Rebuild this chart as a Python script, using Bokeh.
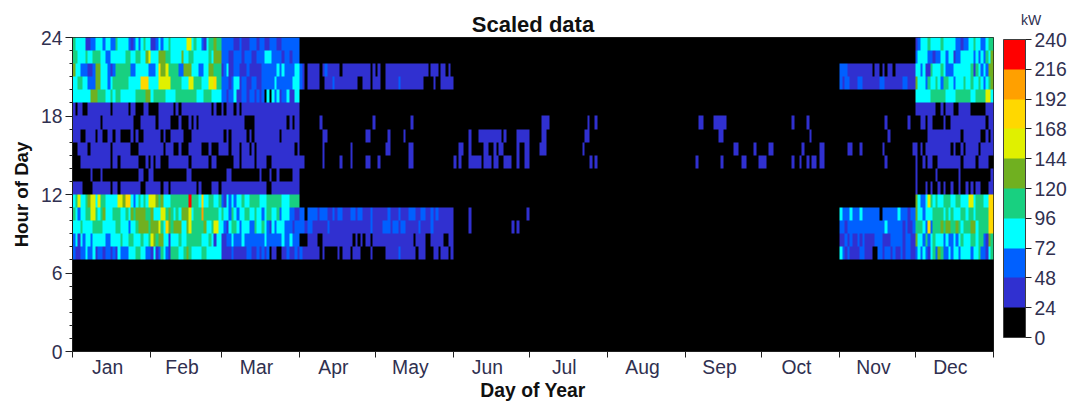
import numpy as np
from bokeh.embed import file_html
from bokeh.resources import INLINE
from bokeh.plotting import figure
from bokeh.models import ColorBar, Div, FixedTicker, LinearColorMapper, Range1d

title = "Scaled data"
x_title = "Day of Year"
y_title = "Hour of Day"
unit = "kW"
months = ["Jan", "Feb", "Mar", "Apr", "May", "Jun", "Jul", "Aug", "Sep", "Oct", "Nov", "Dec"]
month_days = [31, 28, 31, 30, 31, 30, 31, 31, 30, 31, 30, 31]
band_ticks = [0, 24, 48, 72, 96, 120, 144, 168, 192, 216, 240]
palette = ["#000000", "#3030D0", "#0060FF", "#00FFFF", "#18D080",
           "#70B020", "#E0F000", "#FFD800", "#FFA000", "#FF0000"]

# Bands read per day: digit n means the 24 kW band starting at n*24.
# January to March (days 0-89), top block
q1_evening = {
    23: "4333311223 3323322433 33212323433 1123233433 3333663433 21344544 2222211211 1222122112 22112222222",
    22: "4433343344 4332233333 34433443356 3335554433 3353344333 33343555 2221122212 2211222333 22221221222",
    21: "5332221125 5333212444 44422333332 2237556444 4225553332 23355444 1231122111 2111112222 22323222233",
    20: "3344332225 5333234444 44333337773 3336666644 4433366444 33366744 2221233122 1122112222 23222222333",
    19: "3333333555 4443343443 33333444455 3444443333 4444444433 34443333 2212231122 1221212030 32312231133",
}
# January to March, bottom block
q1_morning = {
    11: "3463345663 6443333366 57732343436 6654533344 4444494443 73344334 2132323343 3444433344 44443334444",
    10: "4323344664 3453334443 34354555544 5333664543 4355563444 84444443 4332432334 4334332344 33423332211",
    9:  "3334333344 4433333443 33233455554 5556437545 5533564444 45334663 3213443233 3224334321 32333222122",
    8:  "2313233233 3332233334 33443334334 6545533133 3433444444 33343133 1122322232 2222222322 22223223222",
    7:  "2112232231 2212212132 22333443322 1312432144 4334543333 44333333 1111211111 2211212120 11001121121",
}
# January to March, midday to evening: days below 24 kW, all others in the 24-48 band
q1_low_days = {
    18: [1, 4, 5, 15, 22, 25, 26, 27, 30, 31, 32, 33, 40, 42, 55, 57, 58, 60, 64, 66],
    17: [11, 24, 25, 26, 33, 39, 40, 41, 43, 44, 45, 47, 49, 68, 69, 70, 71, 85, 87],
    16: [3, 4, 9, 12, 13, 16, 19, 20, 21, 22, 24, 26, 27, 35, 37, 38, 44, 45, 46, 60, 62, 69, 71, 82],
    15: [0, 1, 6, 15, 23, 24, 25, 36, 40, 41, 43, 44, 45, 51, 52, 53, 55, 56, 57, 62, 66, 70, 72, 88],
    14: [0, 1, 2, 15, 18, 26, 27, 28, 30, 32, 35, 36, 37, 46, 54, 57, 58, 59, 60, 61, 62, 63, 66, 72, 77, 78],
    13: [0, 1, 2, 3, 4, 5, 6, 8, 9, 10, 12, 13, 14, 15, 16, 17, 18, 19, 20, 21, 22, 23, 24, 25, 28, 29,
         32, 33, 34, 35, 36, 37, 38, 39, 40, 41, 42, 43, 44, 47, 48, 49, 50, 51, 52, 53, 54, 55, 56, 57,
         58, 59, 60, 63, 64, 65, 66, 67, 68, 69, 70, 71, 72, 73, 75, 76, 77, 79, 80, 82, 83, 84, 85, 86],
    12: [4, 5, 6, 7, 15, 18, 27, 28, 35, 38, 49, 51, 52, 53, 54, 58, 77, 78],
}
# April and May (days 90-150)
spring = {
    21: "2101111101 2111110111 1111111101 0100111111 1111111111 10111011010",
    20: "2101111100 1112111111 1110011101 1100111112 1111111110 00010011111",
    10: "2202222122 2112122111 2212211121 1111121112 1112221122 11212111111",
    9:  "2212211111 1211111111 1111111121 1112221221 2211111211 11211111111",
    8:  "0001111001 1111111111 1010101101 1111111111 1111101111 00111110011",
    7:  "2111111101 0000010111 0111000010 0000111112 1111110111 00011011101",
}
# November (days 304-333)
november = {
    21: "2221111111 1110110101 1011111111",
    20: "2122111221 1111112211 1111122111",
    10: "3222322232 2222220222 2223222122",
    9:  "2212222222 2222222232 2222212112",
    8:  "1121211212 1111222111 2222212211",
    7:  "3212111122 1110022122 1211212211",
}
# December (days 334-364)
december = {
    23: "1233343333 4333332212 23343322344",
    22: "2333322122 3323312233 33323232435",
    21: "3323114333 4322233333 33414323255",
    20: "5333243343 2443323334 33433432345",
    19: "3333334444 4433334444 44334444663",
    18: "1111111100 1011100111 11000000111",
    17: "0011011000 0100111111 11111111011",
    16: "0000011111 1111111101 11111100101",
    15: "1010111111 1111010010 11111011111",
    14: "1001011001 1111111101 11110111100",
    13: "1000000010 0000000100 00000000001",
    12: "1000101001 0100100100 10101100011",
    11: "5322364343 3444334433 36634443377",
    10: "5332333444 4343433344 34434444477",
    9:  "4443272444 5455445434 44553444477",
    8:  "5332423433 3232232343 33443442154",
    7:  "2323213425 4223233233 33233422134",
}
# Other isolated days in the 24-48 band, April to November
sparse_days = {
    17: [98, 119, 134, 186, 187, 188, 204, 207, 248, 249, 254, 255, 256, 257, 258, 285, 291, 322, 331],
    16: [99, 100, 116, 117, 125, 131, 157, 161, 162, 163, 164, 165, 166, 167, 168, 169, 171,
         176, 177, 178, 179, 180, 186, 187, 203, 204, 256, 257, 292, 323],
    15: [99, 110, 124, 125, 133, 134, 153, 154, 157, 163, 164, 167, 169, 170, 176, 179, 180, 185, 186, 187,
         202, 262, 263, 270, 276, 277, 289, 296, 297, 307, 308, 312, 321, 333],
    14: [90, 91, 99, 106, 110, 116, 117, 121, 133, 134, 151, 153, 157, 158, 159, 160, 161, 163, 164, 165,
         167, 168, 171, 172, 173, 176, 179, 180, 205, 207, 247, 257, 265, 266, 272, 273, 274,
         285, 288, 291, 293, 294, 296, 297, 322],
    10: [157, 180],
    9: [157, 174, 176],
}

grid = np.zeros((24, 365))


def put(hour, start, digits):
    for i, ch in enumerate(digits.replace(" ", "")):
        if start + i < 365:
            grid[hour, start + i] = int(ch) * 24 + 12


for rows, start in [(q1_evening, 0), (q1_morning, 0), (spring, 90), (november, 304), (december, 334)]:
    for hour, digits in rows.items():
        put(hour, start, digits)
for hour, days in q1_low_days.items():
    grid[hour, 0:90] = 36
    grid[hour, days] = 0
for hour, days in sparse_days.items():
    grid[hour, days] = 36

edges = np.cumsum([0] + month_days).tolist()
mids = [(a + b) / 2 - 1.6 for a, b in zip(edges[:-1], edges[1:])]

p = figure(width=1075, height=403, output_backend="svg", toolbar_location=None,
           x_range=Range1d(0, 365), y_range=Range1d(0, 24),
           frame_width=921, frame_height=314,
           min_border_left=72, min_border_top=37, min_border_right=82, min_border_bottom=52,
           title=title, x_axis_label=x_title, y_axis_label=y_title)
p.background_fill_color = "#000000"
p.border_fill_color = "#FFFFFF"
p.outline_line_color = "#202020"
p.grid.visible = False

mapper = LinearColorMapper(palette=palette, low=0, high=240)
p.image(image=[grid], x=0, y=0, dw=365, dh=24, color_mapper=mapper)

p.title.text_font = "Liberation Sans"
p.title.text_font_size = "16.5pt"
p.title.text_font_style = "bold"
p.title.align = "center"
p.title.text_color = "#101010"
p.title.standoff = 2

xa = p.xaxis[0]
xa.ticker = FixedTicker(ticks=mids, minor_ticks=edges)
xa.major_label_overrides = {m: n for m, n in zip(mids, months)}
xa.major_tick_line_color = None
xa.major_tick_out = 0
xa.major_tick_in = 0
xa.minor_tick_out = 6
xa.minor_tick_in = 0
xa.minor_tick_line_color = "#202020"
xa.axis_line_color = "#202020"
xa.major_label_text_font = "Liberation Sans"
xa.major_label_text_font_size = "14.5pt"
xa.major_label_text_color = "#303050"
xa.major_label_standoff = -1
xa.axis_label_text_font = "Liberation Sans"
xa.axis_label_text_font_size = "14.5pt"
xa.axis_label_text_font_style = "bold"
xa.axis_label_text_color = "#101010"
xa.axis_label_standoff = -1

ya = p.yaxis[0]
ya.ticker = FixedTicker(ticks=[0, 6, 12, 18, 24], minor_ticks=list(range(25)))
ya.major_tick_out = 7
ya.major_tick_in = 0
ya.minor_tick_out = 3
ya.minor_tick_in = 0
ya.major_tick_line_color = "#202020"
ya.minor_tick_line_color = "#202020"
ya.axis_line_color = "#202020"
ya.major_label_text_font = "Liberation Sans"
ya.major_label_text_font_size = "14.5pt"
ya.major_label_text_color = "#303050"
ya.major_label_standoff = 3
ya.major_label_orientation = "horizontal"
ya.axis_label_text_font = "Liberation Sans"
ya.axis_label_text_font_size = "14pt"
ya.axis_label_text_font_style = "bold"
ya.axis_label_text_color = "#101010"
ya.axis_label_standoff = 6

bar = ColorBar(color_mapper=mapper, ticker=FixedTicker(ticks=band_ticks),
               width=22, height=298, location=(931, 14), padding=0, margin=0,
               major_tick_in=0, major_tick_out=6, major_tick_line_color="#202020",
               bar_line_color="#404040", border_line_color=None,
               background_fill_color=None,
               major_label_text_font="Liberation Sans", major_label_text_font_size="14.5pt",
               major_label_text_color="#303050", label_standoff=3)
p.add_layout(bar, "center")
p.elements = [Div(text=unit, styles={"position": "absolute", "left": "1021px", "top": "12px",
                                     "font-family": "Liberation Sans", "font-size": "14px",
                                     "color": "#303050", "line-height": "16px"})]

open("out.html", "w").write(file_html(p, INLINE))
